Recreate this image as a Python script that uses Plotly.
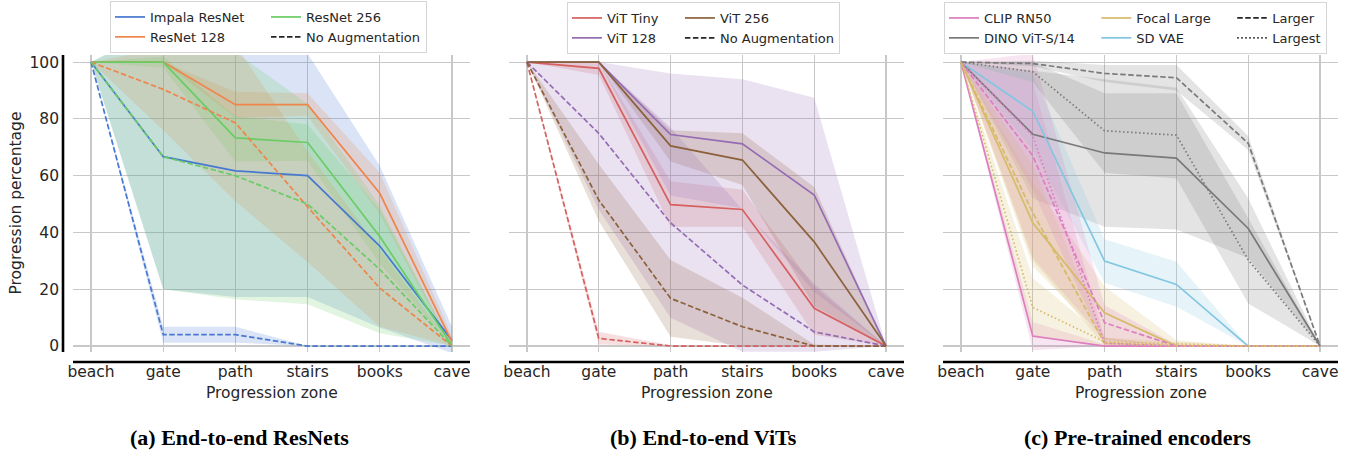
import plotly.graph_objects as go

# ---------------- data ----------------
zones = ["beach", "gate", "path", "stairs", "books", "cave"]
y_ticks = [0, 20, 40, 60, 80, 100]

# (a) End-to-end ResNets
impala_mean = [100, 66.7, 61.7, 60.0, 35.2, 2.0]
impala_lo = [100, 20.0, 17.3, 17.3, 6.5, -2.5]
impala_hi = [100, 113, 106, 103, 63.5, 6.8]
resnet128_mean = [100, 100, 85.0, 85.0, 53.8, 1.5]
resnet128_lo = [100, 100, 80.5, 81.0, 46.5, -0.5]
resnet128_hi = [100, 100, 89.5, 89.0, 61.0, 3.5]
resnet256_mean = [100, 100, 73.3, 71.7, 38.6, 0.3]
resnet256_lo = [100, 98, 65.0, 65.3, 29.0, 0]
resnet256_hi = [100, 102, 81.0, 78.0, 48.0, 0.6]
impala_na_mean = [100, 4.0, 4.0, 0, 0, 0]
impala_na_lo = [100, 1.2, 1.2, 0, 0, 0]
impala_na_hi = [100, 6.8, 6.8, 0, 0, 0]
resnet128_na_mean = [100, 90.4, 78.6, 49.0, 20.4, 0]
resnet128_na_lo = [100, 76, 51, 29.6, 6.8, 0]
resnet128_na_hi = [100, 104.8, 106, 68.5, 34, 0]
resnet256_na_mean = [100, 66.7, 60.0, 50.0, 27.0, 0]
resnet256_na_lo = [100, 20.0, 16.5, 14.7, 4.5, 0]
resnet256_na_hi = [100, 113, 103.5, 85.3, 49.5, 0]

# (b) End-to-end ViTs
vit_tiny_mean = [100, 97.8, 49.8, 48.1, 13.3, 0]
vit_tiny_lo = [100, 95.5, 42, 42, 4, 0]
vit_tiny_hi = [100, 100, 58, 55, 21, 0]
vit128_mean = [100, 100, 74.5, 71.2, 53.2, 0]
vit128_lo = [100, 100, 53, 48.5, 19, 0]
vit128_hi = [100, 100, 96, 94, 87.4, 0]
vit256_mean = [100, 100, 70.5, 65.5, 36.7, 0]
vit256_lo = [100, 100, 65, 56.7, 14, 0]
vit256_hi = [100, 100, 76, 74.9, 56, 0]
vit_tiny_na_mean = [100, 2.7, 0, 0, 0, 0]
vit_tiny_na_lo = [100, 0.5, 0, 0, 0, 0]
vit_tiny_na_hi = [100, 5.0, 0.3, 0, 0, 0]
vit128_na_mean = [100, 74.9, 43.4, 21.5, 5.0, 0]
vit128_na_lo = [100, 48, 10, -2, -2, 0]
vit128_na_hi = [100, 100, 77, 48, 22, 0]
vit256_na_mean = [100, 51.4, 16.8, 6.8, 0, 0]
vit256_na_lo = [100, 44, 3.3, 0, 0, 0]
vit256_na_hi = [100, 64, 30.3, 17, 0.5, 0]

# (c) Pre-trained encoders
clip_mean = [100, 3.5, 0, 0, 0, 0]
clip_lo = [100, -1.5, 0, 0, 0, 0]
clip_hi = [100, 8.5, 0.5, 0, 0, 0]
dino_mean = [100, 74.6, 68.0, 66.2, 41.4, 0]
dino_lo = [100, 52, 42, 41, 31, 0]
dino_hi = [100, 97, 94, 91, 52, 0]
focal_mean = [100, 43.4, 11.7, 0, 0, 0]
focal_lo = [100, 28, 2, 0, 0, 0]
focal_hi = [100, 58, 21, 2, 0, 0]
sdvae_mean = [100, 82.7, 29.9, 21.7, 0, 0]
sdvae_lo = [100, 69, 22.3, 13.8, 0, 0]
sdvae_hi = [100, 96, 37.6, 29.7, 0, 0]
clip_l_mean = [100, 67, 8.2, 0, 0, 0]
clip_l_lo = [100, 31, 2, 0, 0, 0]
clip_l_hi = [100, 103, 14.4, 0.5, 0, 0]
dino_l_mean = [100, 99.5, 96.0, 94.5, 71.4, 0]
dino_l_lo = [100, 98.5, 93, 90, 69, 0]
dino_l_hi = [100, 100.5, 99, 99, 74, 0]
focal_l_mean = [100, 47, 1, 0, 0, 0]
focal_l_lo = [100, 30, 0, 0, 0, 0]
focal_l_hi = [100, 64, 3, 0, 0, 0]
clip_xl_mean = [100, 74, 1, 0, 0, 0]
clip_xl_lo = [100, 55, 0, 0, 0, 0]
clip_xl_hi = [100, 93, 3, 0, 0, 0]
dino_xl_mean = [100, 96.6, 75.8, 74.3, 30.3, 0]
dino_xl_lo = [100, 93, 61, 59, 15, 0]
dino_xl_hi = [100, 100, 89, 89, 45, 0]
focal_xl_mean = [100, 13.6, 1.5, 0.8, 0, 0]
focal_xl_lo = [100, 3, 0, 0, 0, 0]
focal_xl_hi = [100, 24, 3, 1.6, 0, 0]

# ---------------- style ----------------
W, H = 1353, 451
COL = dict(blue="#4878d0", orange="#ee854a", green="#6acc64", red="#d65f5f",
           purple="#956cb4", brown="#8c613c", pink="#dc7ec0", gray="#797979",
           gold="#d5bb67", cyan="#82c6e2")
DASH = {"solid": "solid", "dash": "5.5px,2.5px", "dot": "1.5px,2.5px"}
FONT = "DejaVu Sans"
TXT = "#262626"
PAD = "\u00a0" * 4  # extra column spacing in legends


def rgba(h, a):
    h = h.lstrip("#")
    return "rgba(%d,%d,%d,%.2f)" % (int(h[0:2], 16), int(h[2:4], 16), int(h[4:6], 16), a)


panels = [
    ("", [
        (impala_mean, impala_lo, impala_hi, "blue", "solid"),
        (resnet128_mean, resnet128_lo, resnet128_hi, "orange", "solid"),
        (resnet256_mean, resnet256_lo, resnet256_hi, "green", "solid"),
        (impala_na_mean, impala_na_lo, impala_na_hi, "blue", "dash"),
        (resnet128_na_mean, resnet128_na_lo, resnet128_na_hi, "orange", "dash"),
        (resnet256_na_mean, resnet256_na_lo, resnet256_na_hi, "green", "dash"),
    ]),
    ("2", [
        (vit_tiny_mean, vit_tiny_lo, vit_tiny_hi, "red", "solid"),
        (vit128_mean, vit128_lo, vit128_hi, "purple", "solid"),
        (vit256_mean, vit256_lo, vit256_hi, "brown", "solid"),
        (vit_tiny_na_mean, vit_tiny_na_lo, vit_tiny_na_hi, "red", "dash"),
        (vit128_na_mean, vit128_na_lo, vit128_na_hi, "purple", "dash"),
        (vit256_na_mean, vit256_na_lo, vit256_na_hi, "brown", "dash"),
    ]),
    ("3", [
        (clip_mean, clip_lo, clip_hi, "pink", "solid"),
        (dino_mean, dino_lo, dino_hi, "gray", "solid"),
        (focal_mean, focal_lo, focal_hi, "gold", "solid"),
        (sdvae_mean, sdvae_lo, sdvae_hi, "cyan", "solid"),
        (clip_l_mean, clip_l_lo, clip_l_hi, "pink", "dash"),
        (dino_l_mean, dino_l_lo, dino_l_hi, "gray", "dash"),
        (focal_l_mean, focal_l_lo, focal_l_hi, "gold", "dash"),
        (clip_xl_mean, clip_xl_lo, clip_xl_hi, "pink", "dot"),
        (dino_xl_mean, dino_xl_lo, dino_xl_hi, "gray", "dot"),
        (focal_xl_mean, focal_xl_lo, focal_xl_hi, "gold", "dot"),
    ]),
]

legends = [
    ("legend", [[("Impala ResNet", "blue", "solid"), ("ResNet 128", "orange", "solid")],
                [("ResNet 256", "green", "solid"), ("No Augmentation", "black", "dash")]]),
    ("legend2", [[("ViT Tiny", "red", "solid"), ("ViT 128", "purple", "solid")],
                 [("ViT 256", "brown", "solid"), ("No Augmentation", "black", "dash")]]),
    ("legend3", [[("CLIP RN50", "pink", "solid"), ("DINO ViT-S/14", "gray", "solid")],
                 [("Focal Large", "gold", "solid"), ("SD VAE", "cyan", "solid")],
                 [("Larger", "black", "dash"), ("Largest", "black", "dot")]]),
]

fig = go.Figure()

for suf, series in panels:
    xa, ya = "x" + suf, "y" + suf
    for mean, lo, hi, c, d in series:
        fig.add_trace(go.Scatter(x=zones + zones[::-1], y=hi + lo[::-1], fill="toself",
                                 fillcolor=rgba(COL[c], 0.2), mode="lines", line=dict(width=0),
                                 hoverinfo="skip", showlegend=False, xaxis=xa, yaxis=ya))
    for mean, lo, hi, c, d in series:
        fig.add_trace(go.Scatter(x=zones, y=mean, mode="lines",
                                 line=dict(color=COL[c], width=1.7, dash=DASH[d]),
                                 showlegend=False, xaxis=xa, yaxis=ya))

for (lg, groups), suf in zip(legends, ["", "2", "3"]):
    for gi, grp in enumerate(groups):
        last = gi == len(groups) - 1
        for name, c, d in grp:
            col = COL.get(c, "#262626")
            fig.add_trace(go.Scatter(x=[None], y=[None], mode="lines",
                                     name=name if last else name + PAD,
                                     line=dict(color=col, width=1.7, dash=DASH[d]),
                                     legend=lg, legendgroup=lg + str(gi), showlegend=True,
                                     xaxis="x" + suf, yaxis="y" + suf))

xdoms = [(73, 470), (509, 904), (943, 1338)]
ydom = [1 - 352 / H, 1 - 55 / H]
layout = dict(width=W, height=H, margin=dict(l=0, r=0, t=0, b=0, autoexpand=False),
              paper_bgcolor="white", plot_bgcolor="white", showlegend=True)
for i, (a, b) in enumerate(xdoms):
    suf = "" if i == 0 else str(i + 1)
    layout["xaxis" + suf] = dict(domain=[a / W, b / W], type="category", categoryarray=zones,
                                 range=[-0.25, 5.25], showgrid=True, gridcolor="#c8c8c8",
                                 gridwidth=1.2, zeroline=False, showline=False, ticks="",
                                 tickfont=dict(family=FONT, size=15.5, color=TXT),
                                 ticklabelstandoff=8, anchor="y" + suf, fixedrange=True,
                                 automargin=False)
    layout["yaxis" + suf] = dict(domain=ydom, range=[-2.1, 102.5], tickvals=y_ticks,
                                 showgrid=True, gridcolor="#c8c8c8", gridwidth=1.2,
                                 zeroline=False, showline=False, ticks="",
                                 showticklabels=(i == 0),
                                 tickfont=dict(family=FONT, size=15.5, color=TXT),
                                 ticklabelstandoff=13, anchor="x" + suf, fixedrange=True,
                                 automargin=False)

leg_pos = [(110, 1), (567, 2), (944, 2)]
for (lg, _), (lx, ly) in zip(legends, leg_pos):
    layout[lg] = dict(orientation="h", x=lx / W, y=1 - ly / H, xanchor="left", yanchor="top",
                      bgcolor="rgba(255,255,255,0.8)", bordercolor="#d5d5d5", borderwidth=1,
                      font=dict(family=FONT, size=13, color=TXT), itemwidth=30,
                      traceorder="grouped", tracegroupgap=0)

shapes = [dict(type="line", xref="paper", yref="paper", x0=63 / W, x1=63 / W,
               y0=1 - 55 / H, y1=1 - 352 / H, line=dict(color="black", width=2.6))]
for a, b in xdoms:
    shapes.append(dict(type="line", xref="paper", yref="paper", x0=a / W, x1=b / W,
                       y0=1 - 362 / H, y1=1 - 362 / H, line=dict(color="black", width=2.6)))
layout["shapes"] = shapes

ann = []
for a, b in xdoms:
    ann.append(dict(text="Progression zone", x=(a + b) / 2 / W, y=1 - 393 / H, xref="paper",
                    yref="paper", showarrow=False, xanchor="center", yanchor="middle",
                    font=dict(family=FONT, size=15.5, color=TXT)))
ann.append(dict(text="Progression percentage", x=16 / W, y=1 - 203.5 / H, xref="paper",
                yref="paper", showarrow=False, textangle=-90, xanchor="center",
                yanchor="middle", font=dict(family=FONT, size=15.5, color=TXT)))
captions = [("(a) End-to-end ResNets", 239), ("(b) End-to-end ViTs", 703.7),
            ("(c) Pre-trained encoders", 1137)]
for t, cx in captions:
    ann.append(dict(text="<b>" + t + "</b>", x=cx / W, y=1 - 437 / H, xref="paper",
                    yref="paper", showarrow=False, xanchor="center", yanchor="middle",
                    font=dict(family="Linux Libertine, Liberation Serif, serif", size=22,
                              color="black")))
layout["annotations"] = ann

fig.update_layout(**layout)
fig.write_html("out.html", config={"displayModeBar": False, "staticPlot": True},
               post_script="document.body.style.margin='0px';"
               "document.body.style.overflow='hidden';")
